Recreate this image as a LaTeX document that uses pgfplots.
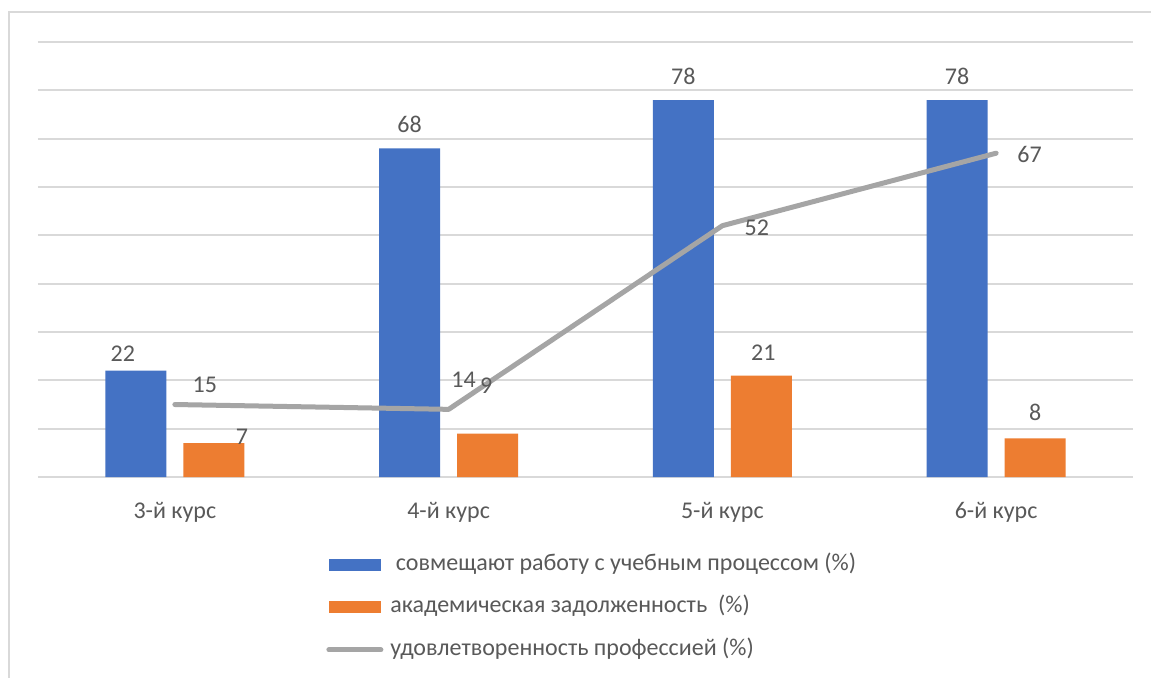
\documentclass[border=0pt]{standalone}
\usepackage{pgfplots}
\pgfplotsset{compat=1.18}
\usepackage{pgfplotstable}
\usepackage{fontspec}
\setmainfont{Carlito}
\definecolor{cblue}{HTML}{4472C4}
\definecolor{corange}{HTML}{ED7D31}
\definecolor{cgray}{HTML}{A5A5A5}
\definecolor{ctext}{HTML}{595959}
\definecolor{cgrid}{HTML}{D9D9D9}
\definecolor{cframe}{HTML}{D9D9D9}

\pgfplotstableread{
x y dx dy
0 22 -26 8.5
1 68 -19.5 12
2 78 -19.5 12
3 78 -19.5 12
}\blueT
\pgfplotstableread{
x y dx dy
0 7 33.5 3.25
1 9 18.75 24
2 21 20.5 11.5
3 8 19.5 13
}\orangeT
\pgfplotstableread{
x y dx dy
0 15 15 9.75
1 14 7.5 14.75
2 52 17.25 -0.85
3 67 16.75 -0.8
}\grayT

\begin{document}
\begin{tikzpicture}
\useasboundingbox (0pt,0pt) rectangle (575.5pt,-338.5pt);
\fill[white] (0pt,0pt) rectangle (575.5pt,-338.5pt);
\draw[cframe, line width=1pt] (4.5pt,-340pt) -- (4.5pt,-6pt) -- (577pt,-6pt);
\begin{axis}[
  at={(19pt,-238.5pt)}, anchor=south west,
  scale only axis, width=547.5pt, height=217.5pt,
  xmin=-0.5, xmax=3.5, ymin=0, ymax=90,
  clip=false,
  font=\fontsize{12}{14}\selectfont,
  /pgf/number format/assume math mode=true,
  axis line style={draw=none},
  tick style={draw=none},
  major tick length=0pt,
  ytick={0,10,...,90}, yticklabels={},
  ymajorgrids, grid style={cgrid, line width=1pt},
  xtick={0,1,2,3},
  xticklabels={3-й курс,4-й курс,5-й курс,6-й курс},
  xticklabel style={anchor=center, yshift=-17.5pt, text=ctext},
  legend style={at={(0.2630,-0.177)}, anchor=north west, draw=none, fill=none,
    inner sep=0pt, row sep=10.75pt, column sep=3.5pt,
    nodes={inner sep=0pt, text=ctext, text height=8pt, text depth=2.5pt},
    font=\fontsize{12}{14}\selectfont},
  legend cell align=left,
  visualization depends on={\thisrow{dx} \as \dx},
  visualization depends on={\thisrow{dy} \as \dy},
  nodes near coords,
  every node near coord/.append style={anchor=center, xshift=\dx pt, yshift=\dy pt, text=ctext, font=\fontsize{12}{14}\selectfont},
]
\addplot[ybar, bar width=30.5pt, bar shift=-19.5pt, fill=cblue, draw=none,
  legend image code/.code={\fill[cblue] (0pt,-3pt) rectangle (26pt,3pt);}]
  table[x=x,y=y] {\blueT};
\addlegendentry{\ совмещают работу с учебным процессом (\%)}
\addplot[ybar, bar width=30.5pt, bar shift=19.5pt, fill=corange, draw=none,
  legend image code/.code={\fill[corange] (0pt,-3pt) rectangle (26pt,3pt);}]
  table[x=x,y=y] {\orangeT};
\addlegendentry{академическая задолженность\ \ (\%)}
\addplot[cgray, line width=2.5pt, line cap=round, line join=round, mark=none,
  legend image code/.code={\path[draw=none, fill=none] (0pt,-3pt) rectangle (26pt,3pt);\draw[cgray, line width=2.5pt, line cap=round] (0pt,0pt) -- (26pt,0pt);}]
  table[x=x,y=y] {\grayT};
\addlegendentry{удовлетворенность профессией (\%)}
\end{axis}
\end{tikzpicture}
\end{document}
